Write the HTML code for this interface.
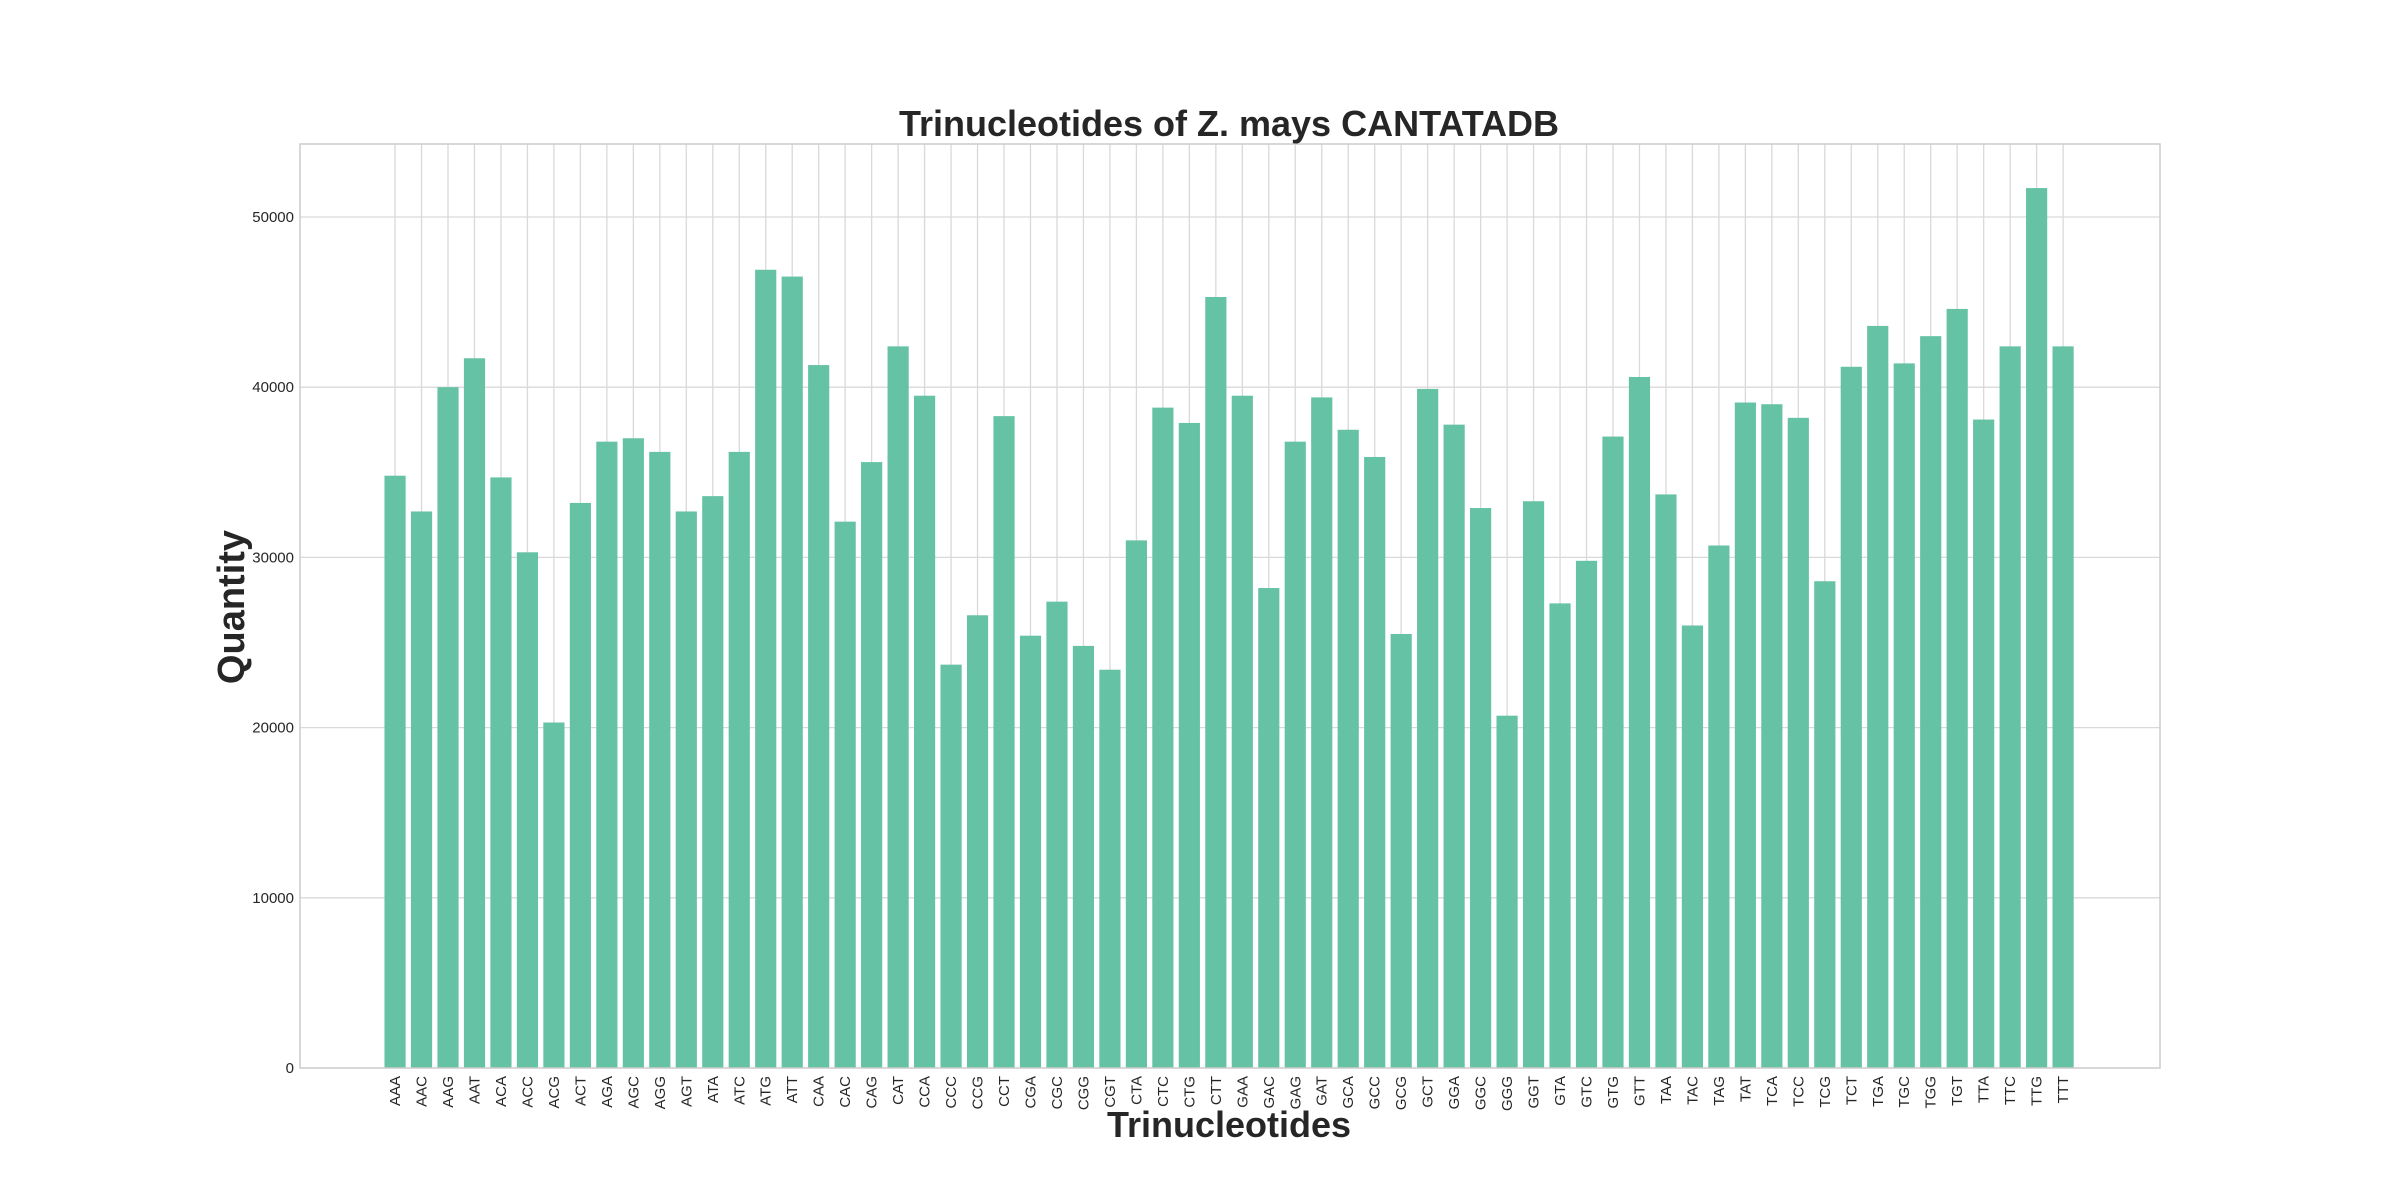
<!DOCTYPE html>
<html><head><meta charset="utf-8"><style>
html,body{margin:0;padding:0;background:#fff;}
svg{display:block;font-family:"Liberation Sans",sans-serif;}
</style></head><body>
<svg id="chart" width="2400" height="1200" viewBox="0 0 2400 1200" xmlns="http://www.w3.org/2000/svg">
<rect width="2400" height="1200" fill="#fff"/>
<g id="grid"></g>
<g id="bars"></g>
<g id="ticks"></g>
<rect x="300" y="144" width="1860" height="924" fill="none" stroke="#cccccc" stroke-width="1.5"/>
<text x="1229" y="136" text-anchor="middle" font-size="36" font-weight="bold" fill="#262626">Trinucleotides of Z. mays CANTATADB</text>
<text x="1229" y="1137" text-anchor="middle" font-size="36" font-weight="bold" fill="#262626">Trinucleotides</text>
<text transform="translate(244,607) rotate(-90)" text-anchor="middle" font-size="38" font-weight="bold" fill="#262626">Quantity</text>
</svg>
<script>
const categories=["AAA","AAC","AAG","AAT","ACA","ACC","ACG","ACT","AGA","AGC","AGG","AGT","ATA","ATC","ATG","ATT","CAA","CAC","CAG","CAT","CCA","CCC","CCG","CCT","CGA","CGC","CGG","CGT","CTA","CTC","CTG","CTT","GAA","GAC","GAG","GAT","GCA","GCC","GCG","GCT","GGA","GGC","GGG","GGT","GTA","GTC","GTG","GTT","TAA","TAC","TAG","TAT","TCA","TCC","TCG","TCT","TGA","TGC","TGG","TGT","TTA","TTC","TTG","TTT"];
const quantities=[34800,32700,40000,41700,34700,30300,20300,33200,36800,37000,36200,32700,33600,36200,46900,46500,41300,32100,35600,42400,39500,23700,26600,38300,25400,27400,24800,23400,31000,38800,37900,45300,39500,28200,36800,39400,37500,35900,25500,39900,37800,32900,20700,33300,27300,29800,37100,40600,33700,26000,30700,39100,39000,38200,28600,41200,43600,41400,43000,44600,38100,42400,51700,42400];
const yTicks=[0,10000,20000,30000,40000,50000];

const NS="http://www.w3.org/2000/svg";
const L=300,R=2160,T=144,B=1068;
const xMin=-3.59,xMax=categories.length-1+3.66;
const yMax=50000*(B-T)/(B-217);
function xs(i){return L+(i-xMin)/(xMax-xMin)*(R-L);}
function ys(v){return B-v/yMax*(B-T);}
function mk(tag,attrs,parent){const e=document.createElementNS(NS,tag);for(const k in attrs)e.setAttribute(k,attrs[k]);parent.appendChild(e);return e;}
const grid=document.getElementById('grid'),bars=document.getElementById('bars'),ticks=document.getElementById('ticks');
const unit=(R-L)/(xMax-xMin),bw=unit*0.8;
categories.forEach((c,i)=>{
  const g=mk('line',{x1:xs(i),x2:xs(i),y1:T,y2:B,stroke:'#d9d9d9','stroke-width':1.3},grid);
  
  
  const r=mk('rect',{x:xs(i)-bw/2,y:ys(quantities[i]),width:bw,height:B-ys(quantities[i]),fill:'#66c2a5'},bars);
  
  
  const t=mk('text',{transform:`translate(${xs(i)+5},${B+8}) rotate(-90)`,'text-anchor':'end','font-size':15,fill:'#262626'},ticks);
  t.textContent=c;
  
  
});
yTicks.forEach(v=>{
  if(v>0){const g=mk('line',{x1:L,x2:R,y1:ys(v),y2:ys(v),stroke:'#d9d9d9','stroke-width':1.3},grid);
  
  }
  const t=mk('text',{x:L-6,y:ys(v)+5,'text-anchor':'end','font-size':15,fill:'#262626'},ticks);
  t.textContent=v;
  
  
});
</script>
</body></html>
